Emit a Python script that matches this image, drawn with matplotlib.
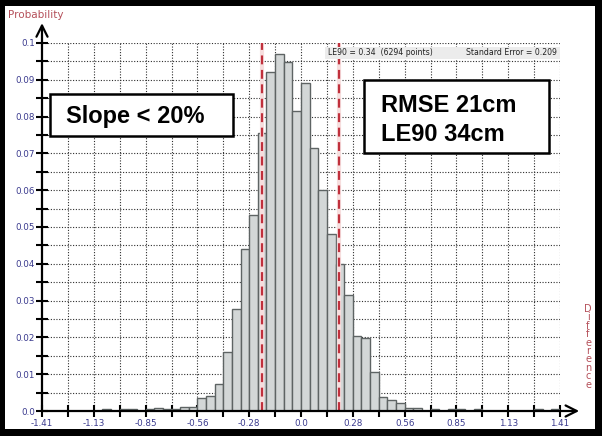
import numpy as np
import matplotlib
matplotlib.use("Agg")
import matplotlib.pyplot as plt
from matplotlib.patches import Rectangle

# bin index k: bin covers [k*w, (k+1)*w], w = 1.41/30
bin_index = [-23, -21, -20, -18, -17, -16, -15, -14, -13, -12, -11, -10, -9, -8, -7,
             -6, -5, -4, -3, -2, -1, 0, 1, 2, 3, 4, 5, 6, 7, 8, 9, 10, 11, 12, 13,
             15, 17, 18, 20, 27, 29]
probability = [0.0005, 0.0005, 0.0005, 0.0005, 0.0007, 0.0005, 0.0005, 0.0012, 0.0012,
               0.0036, 0.0041, 0.0073, 0.0161, 0.0276, 0.0440, 0.0533, 0.0756, 0.0920,
               0.0970, 0.0948, 0.0815, 0.0890, 0.0716, 0.0600, 0.0481, 0.0399, 0.0315,
               0.0204, 0.0199, 0.0107, 0.0037, 0.0030, 0.0023, 0.0007, 0.0009,
               0.0005, 0.0005, 0.0005, 0.0005, 0.0005, 0.0005]

x_max = 1.41
bin_width = x_max / 30
x_tick_labels = ["-1.41", "-1.13", "-0.85", "-0.56", "-0.28", "0.0",
                 "0.28", "0.56", "0.85", "1.13", "1.41"]
y_tick_labels = ["0.0", "0.01", "0.02", "0.03", "0.04", "0.05",
                 "0.06", "0.07", "0.08", "0.09", "0.1"]
limit_lines = [-0.212, 0.205]
info_left = "LE90 = 0.34  (6294 points)"
info_right = "Standard Error = 0.209"

W, H = 602, 436
fig = plt.figure(figsize=(W / 100, H / 100), dpi=100)
fig.patch.set_facecolor("black")

def fx(px):
    return px / W

def fy(py):
    return 1 - py / H

# white page inside black frame
fig.add_artist(Rectangle((fx(5), fy(429)), fx(590), 423 / H, transform=fig.transFigure,
                         facecolor="white", edgecolor="none", zorder=0))

ax = fig.add_axes([fx(42), fy(411), fx(518), 368 / H])
ax.set_xlim(-x_max, x_max)
ax.set_ylim(0, 0.1)
ax.patch.set_alpha(0)
for s in ax.spines.values():
    s.set_visible(False)

grid_style = dict(color="#2e2e2e", lw=0.8, ls=(0, (1, 1.5)), zorder=1)
x_grid = np.linspace(-x_max, x_max, 21)
y_grid = np.linspace(0, 0.1, 21)
for gx in x_grid[1:]:
    ax.plot([gx, gx], [0, 0.1], **grid_style)
for gy in y_grid[1:]:
    ax.plot([-x_max, x_max], [gy, gy], **grid_style)

# histogram
left_edges = np.array(bin_index) * bin_width
ax.bar(left_edges, probability, width=bin_width, align="edge",
       facecolor="#d3d7d7", edgecolor="#5e6464", lw=1, zorder=3)

# red LE lines
for lx in limit_lines:
    ax.plot([lx, lx], [0, 0.1], color="#f6dede", lw=3, zorder=4, solid_capstyle="butt")
    ax.plot([lx, lx], [0, 0.1], color="#c0303c", lw=1.6, ls=(0, (4, 2.5)), zorder=5)

# info band
ax.add_patch(Rectangle((0.128, 0.0957), x_max - 0.128, 0.0032, facecolor="#ececec",
                       edgecolor="none", zorder=6))
ax.text(0.145, 0.0973, info_left, fontsize=5.6, color="#222222", va="center",
        ha="left", zorder=7)
ax.text(1.395, 0.0973, info_right, fontsize=5.6, color="#222222", va="center",
        ha="right", zorder=7)

# axes lines with arrows
ax.annotate("", xy=(1.037, 0), xytext=(0, 0), xycoords="axes fraction",
            arrowprops=dict(arrowstyle="->", lw=1.6, color="black", mutation_scale=20,
                            shrinkA=0, shrinkB=0), zorder=8)
ax.annotate("", xy=(0, 1.054), xytext=(0, 0), xycoords="axes fraction",
            arrowprops=dict(arrowstyle="->", lw=1.6, color="black", mutation_scale=20,
                            shrinkA=0, shrinkB=0), zorder=8)

ax.set_xticks(x_grid)
ax.set_xticklabels([x_tick_labels[i // 2] if i % 2 == 0 else "" for i in range(21)])
ax.set_yticks(y_grid)
ax.set_yticklabels([y_tick_labels[i // 2] if i % 2 == 0 else "" for i in range(21)])
ax.tick_params(direction="inout", length=8, width=1.5, colors="black",
               labelcolor="#3a3a8e", labelsize=6.3, pad=1.5)
ax.tick_params(axis="y", pad=1)

# axis titles
fig.text(fx(8), fy(15), "Probability", fontsize=7.5, color="#b5505a", ha="left", va="center")
fig.text(fx(588), fy(304), "\n".join("Difference"), fontsize=7, color="#b5505a",
         ha="center", va="top", linespacing=0.8)

# annotation boxes
fig.add_artist(Rectangle((fx(50), fy(136)), fx(183), 42 / H, transform=fig.transFigure,
                         facecolor="white", edgecolor="black", lw=1.8, zorder=10))
fig.text(fx(66), fy(116), "Slope < 20%", fontsize=17, fontweight="bold",
         family="Liberation Sans", ha="left", va="center", zorder=11)

fig.add_artist(Rectangle((fx(364), fy(153)), fx(185), 73 / H, transform=fig.transFigure,
                         facecolor="white", edgecolor="black", lw=1.8, zorder=10))
fig.text(fx(381), fy(105), "RMSE 21cm", fontsize=17, fontweight="bold",
         family="Liberation Sans", ha="left", va="center", zorder=11)
fig.text(fx(381), fy(134), "LE90 34cm", fontsize=17, fontweight="bold",
         family="Liberation Sans", ha="left", va="center", zorder=11)

fig.savefig("out.png", dpi=100, facecolor=fig.get_facecolor())
